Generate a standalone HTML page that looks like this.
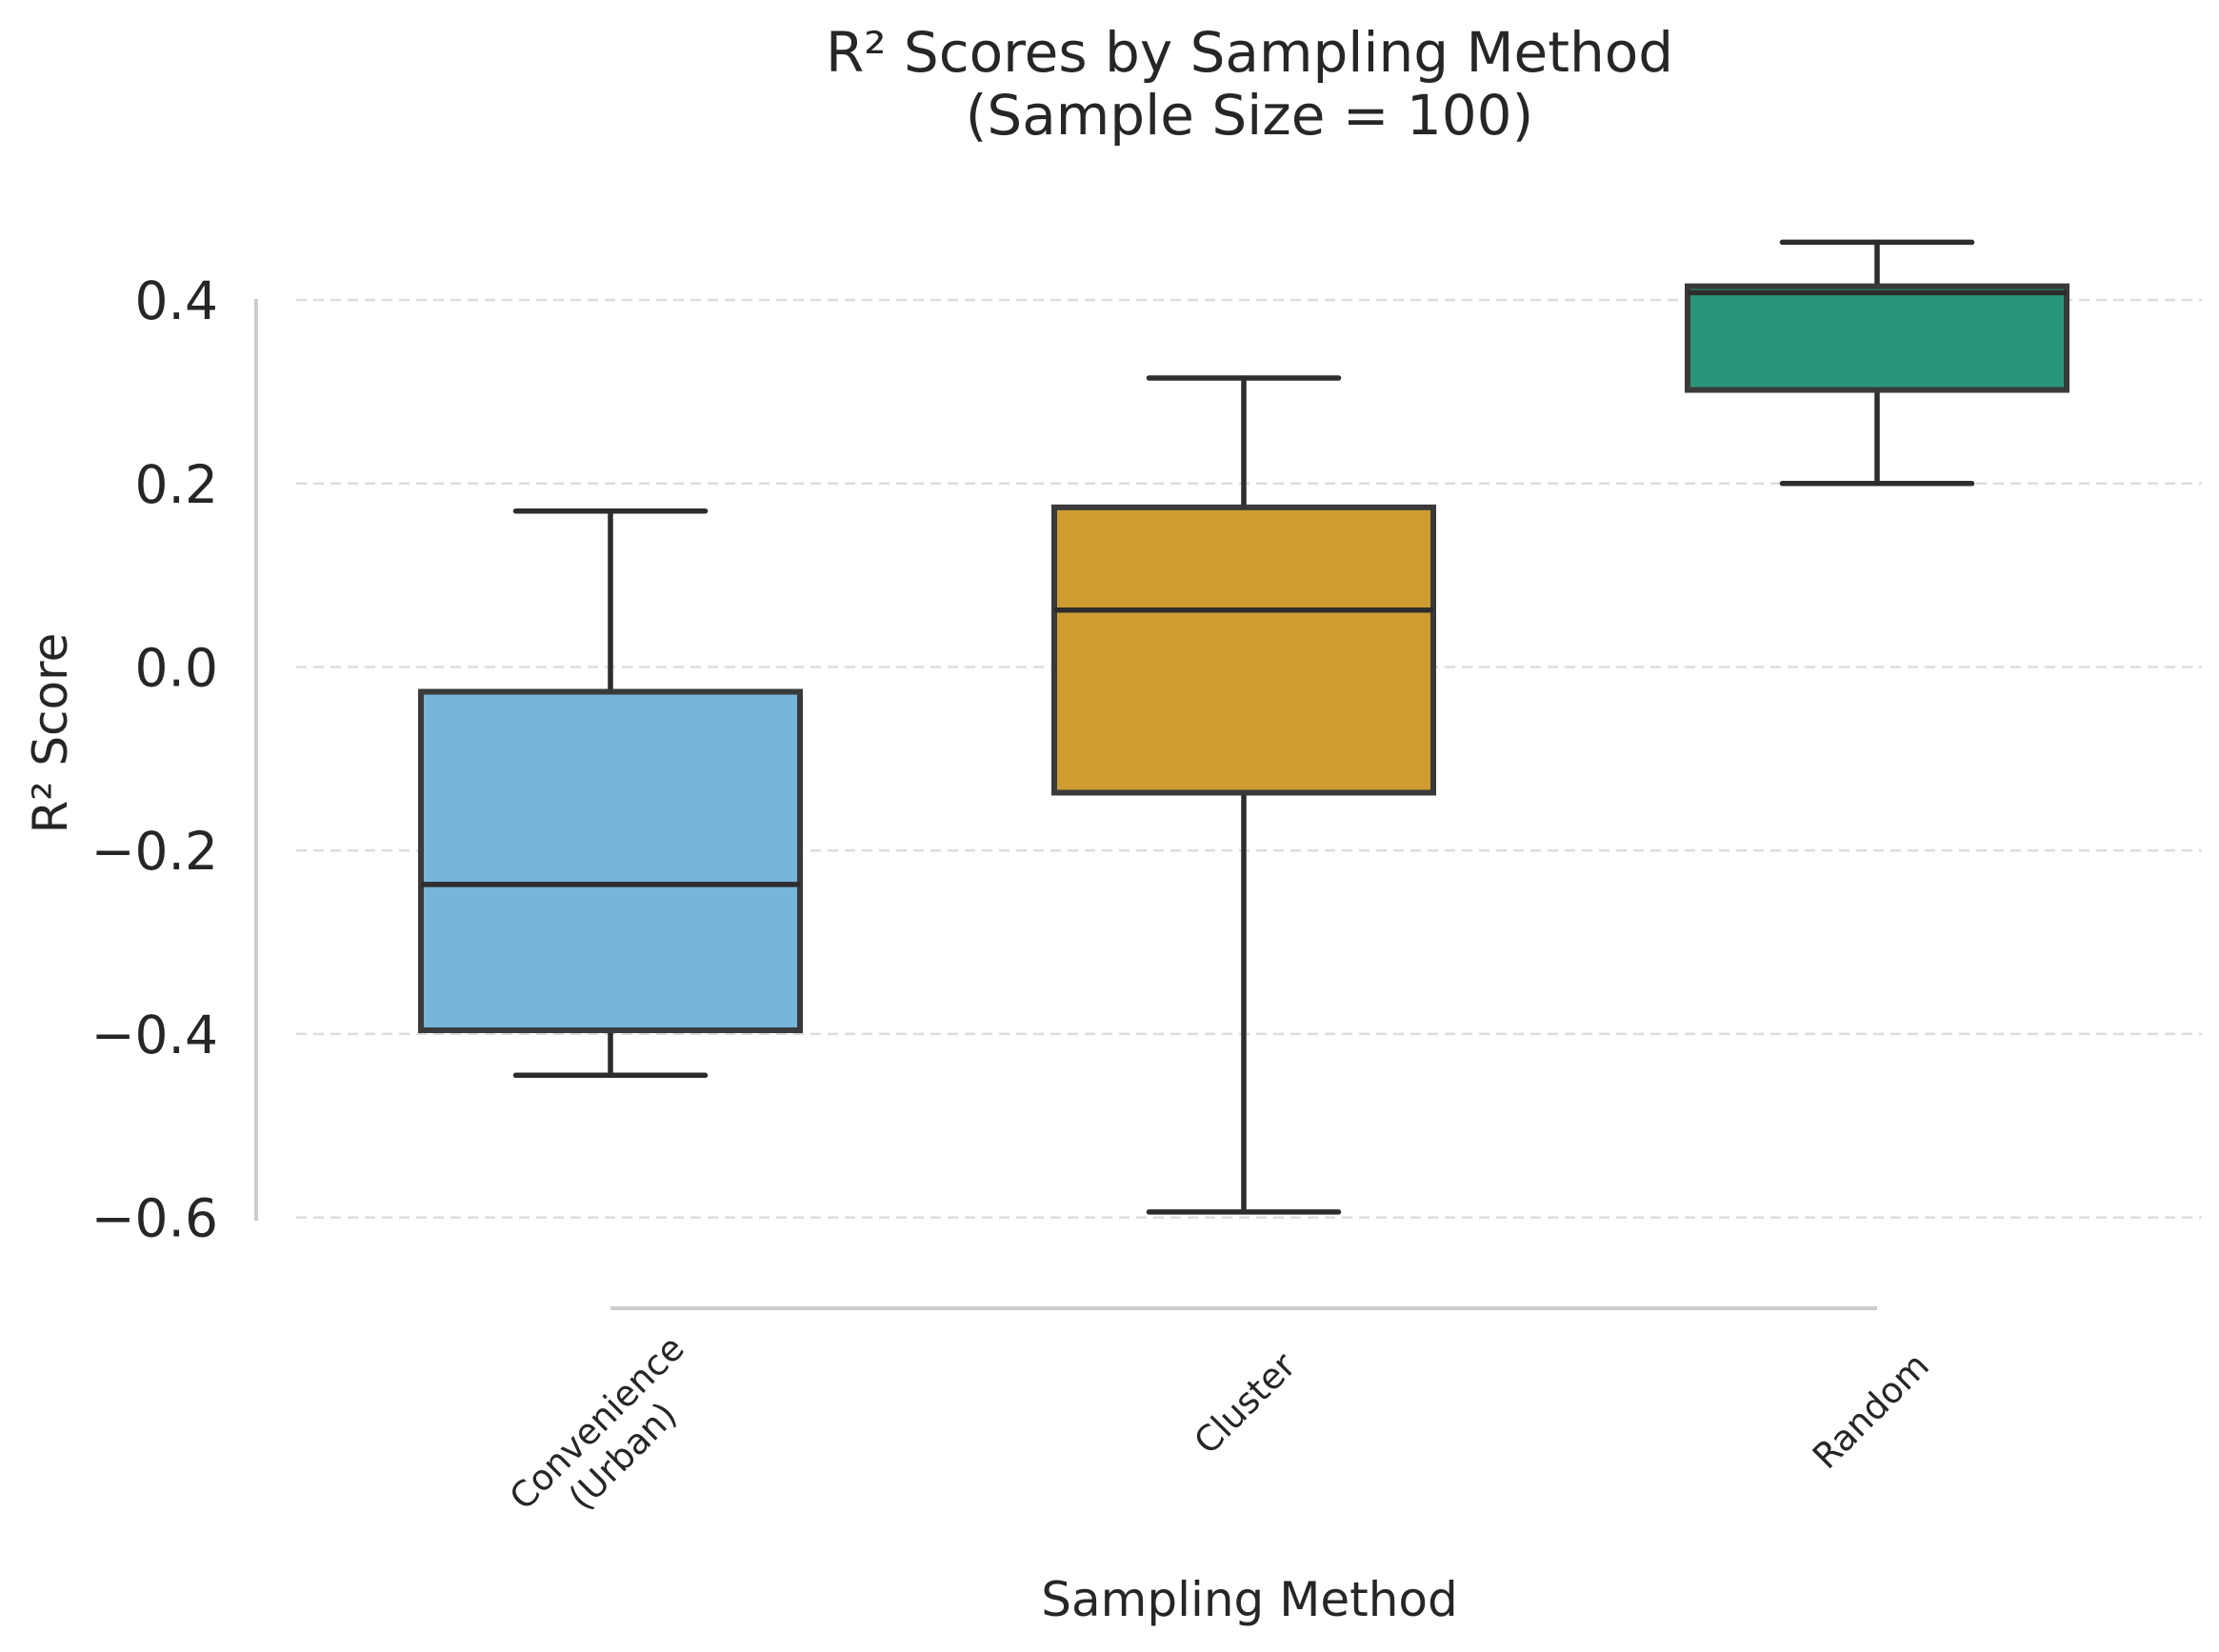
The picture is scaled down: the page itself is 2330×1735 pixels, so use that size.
<!DOCTYPE html>
<html><head><meta charset="utf-8"><style>
html,body{margin:0;padding:0;background:#fff;}
svg text{font-family:"DejaVu Sans","Liberation Sans",sans-serif;fill:#262626;}
</style></head><body>
<svg id="chart" width="2330" height="1730" xmlns="http://www.w3.org/2000/svg">
<text x="1312" y="75" font-size="58" text-anchor="middle">R² Scores by Sampling Method</text>
<text x="1312" y="141" font-size="58" text-anchor="middle">(Sample Size = 100)</text>
<g id="grid"></g>
<g id="yticks"></g>
<line x1="269" x2="269" y1="314" y2="1282" stroke="#cccccc" stroke-width="4"/>
<text transform="translate(70,770) rotate(-90)" font-size="50" text-anchor="middle">R² Score</text>
<g id="boxes"></g>
<g id="xticks"></g>
<text x="1312" y="1697" font-size="50" text-anchor="middle">Sampling Method</text>
</svg>
<script>
const categories = [["Convenience","(Urban)"],["Cluster"],["Random"]];
const whiskerLow = [-0.445, -0.594, 0.200];
const q1 = [-0.396, -0.137, 0.302];
const medians = [-0.237, 0.062, 0.408];
const q3 = [-0.027, 0.174, 0.415];
const whiskerHigh = [0.170, 0.315, 0.463];
const yTicks = [0.4, 0.2, 0.0, -0.2, -0.4, -0.6];
const yTickLabels = ["0.4","0.2","0.0","−0.2","−0.4","−0.6"];
const colors = ["#77b5da","#cd9d32","#2a9679"];

const NS="http://www.w3.org/2000/svg";
function y(v){return 700.5 - v*963.5;}
function x(i){return 641 + i*665;}
const boxW=398;
function mk(tag,attrs,parent){const e=document.createElementNS(NS,tag);for(const k in attrs)e.setAttribute(k,attrs[k]);parent.appendChild(e);return e;}
const grid=document.getElementById('grid'), yt=document.getElementById('yticks');
yTicks.forEach((v,i)=>{
  const l=mk('line',{x1:311,x2:2312,y1:y(v),y2:y(v),stroke:'#dddddd','stroke-width':2.5,'stroke-dasharray':'11,7'},grid);
  
  
  const t=mk('text',{x:229,y:y(v)+20,'font-size':55,'text-anchor':'end'},yt);
  t.textContent=yTickLabels[i];
  
  
});
const bx=document.getElementById('boxes');
categories.forEach((c,i)=>{
  const cx=x(i);
  const g=mk('g',{},bx);
  
  
  const s={stroke:'#2d2d2d','stroke-width':5.5,'stroke-linecap':'round'};
  mk('line',Object.assign({x1:cx,x2:cx,y1:y(q3[i]),y2:y(whiskerHigh[i])},s),g);
  mk('line',Object.assign({x1:cx,x2:cx,y1:y(q1[i]),y2:y(whiskerLow[i])},s),g);
  mk('line',Object.assign({x1:cx-boxW/4,x2:cx+boxW/4,y1:y(whiskerHigh[i]),y2:y(whiskerHigh[i])},s),g);
  mk('line',Object.assign({x1:cx-boxW/4,x2:cx+boxW/4,y1:y(whiskerLow[i]),y2:y(whiskerLow[i])},s),g);
  mk('rect',{x:cx-boxW/2,y:y(q3[i]),width:boxW,height:y(q1[i])-y(q3[i]),fill:colors[i],stroke:'#3a3a3a','stroke-width':6},g);
  mk('line',{x1:cx-boxW/2,x2:cx+boxW/2,y1:y(medians[i]),y2:y(medians[i]),stroke:'#2d2d2d','stroke-width':5.5},g);
});
const xt=document.getElementById('xticks');
const sp=mk('line',{x1:x(0),x2:x(categories.length-1),y1:1374,y2:1374,stroke:'#cccccc','stroke-width':4},xt);


categories.forEach((c,i)=>{
  const multi=c.length>1;
  const t=mk('text',{transform:`translate(${x(i)+(multi?85:48)},${multi?1424:1428}) rotate(-45)`,'font-size':37,'text-anchor':'end'},xt);
  
  
  c.forEach((line,j)=>{
    const ts=mk('tspan',{x:j===0?0:-55,dy:j===0?(multi?-8:12):44},t);
    ts.textContent=line;
  });
});
</script>
</body></html>
